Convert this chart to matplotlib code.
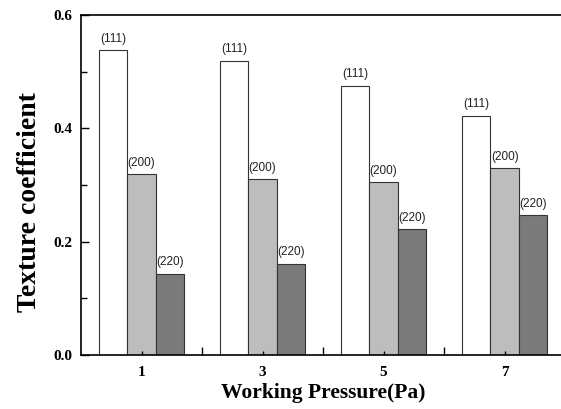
import numpy as np
import matplotlib.pyplot as plt
from matplotlib.ticker import MultipleLocator, FixedLocator

# data
pressure = [1, 3, 5, 7]
tc_111 = [0.538, 0.519, 0.475, 0.422]
tc_200 = [0.319, 0.310, 0.305, 0.330]
tc_220 = [0.143, 0.161, 0.222, 0.247]
planes = ["(111)", "(200)", "(220)"]

colors = ["white", "#bdbdbd", "#7a7a7a"]
width = 0.47

fig = plt.figure(figsize=(5.61, 4.09), dpi=100)
ax = fig.add_axes([0.1444, 0.132, 0.863, 0.831])

x = np.array(pressure, dtype=float)
for k, (vals, col) in enumerate(zip([tc_111, tc_200, tc_220], colors)):
    pos = x + (k - 1) * width
    ax.bar(pos, vals, width, color=col, edgecolor="#333333", linewidth=0.8)
    for xi, v in zip(pos, vals):
        ax.annotate(planes[k], (xi, v), xytext=(0, 4), textcoords="offset points",
                    ha="center", va="bottom", fontsize=8.5, family="Liberation Sans",
                    color="#222222")

ax.set_xlim(0, 8)
ax.set_ylim(0, 0.6)
ax.set_xticks(pressure)
ax.xaxis.set_minor_locator(FixedLocator([2, 4, 6]))
ax.yaxis.set_major_locator(MultipleLocator(0.2))
ax.yaxis.set_minor_locator(MultipleLocator(0.1))
ax.set_yticklabels(["%.1f" % t for t in ax.get_yticks()])
ax.tick_params(which="both", direction="in", width=1)
ax.tick_params(axis="y", which="major", length=6, pad=6)
ax.tick_params(axis="y", which="minor", length=4)
ax.tick_params(axis="x", which="major", length=3, pad=8)
ax.tick_params(axis="x", which="minor", length=6)
for lab in ax.get_xticklabels() + ax.get_yticklabels():
    lab.set_fontfamily("Liberation Serif")
    lab.set_fontweight("bold")
    lab.set_fontsize(11)
for sp in ax.spines.values():
    sp.set_linewidth(1.2)

ax.set_ylabel("Texture coefficient", family="Liberation Serif", fontweight="bold",
              fontsize=20)
ax.yaxis.set_label_coords(-0.08, 0.45)
ax.set_xlabel("Working Pressure(Pa)", family="Liberation Serif", fontweight="bold",
              fontsize=15.5, labelpad=3)

fig.savefig("out.png", dpi=100)
